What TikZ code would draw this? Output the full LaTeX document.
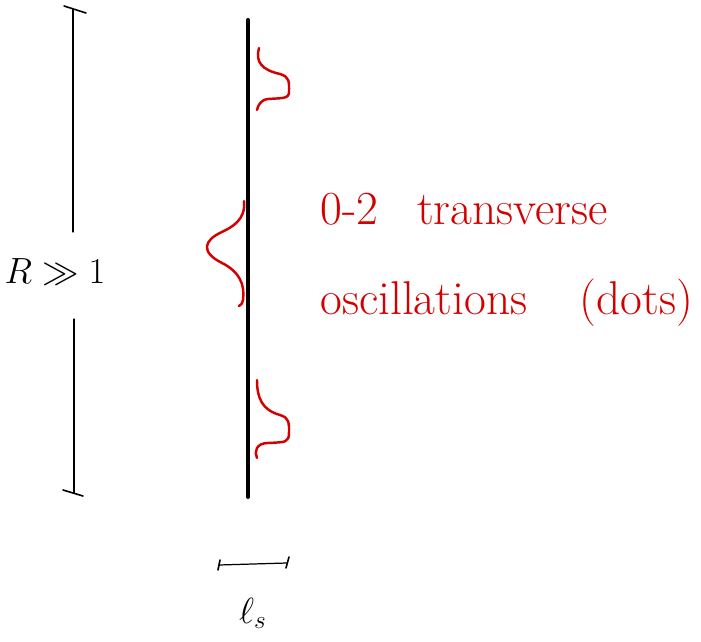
\documentclass[tikz,border=0pt]{standalone}
\usepackage{amsmath}
\usepackage{amssymb}
\usepackage{xcolor}
\usetikzlibrary{positioning, calc}
\definecolor{SketchRed}{HTML}{D40000}

\begin{document}
\begin{tikzpicture}[x=0.02cm, y=-0.02cm, line cap=round, line join=round]
    \useasboundingbox (0,0) rectangle (701,642);

    % long string and its length
    \coordinate (st) at (248,20);
    \coordinate (sb) at (248,497);
    \draw[line width=2.3pt] (st) -- (sb);

    \node (len) [inner sep=2pt] at (55,272) {\fontsize{20}{24}\selectfont $R \gg 1$};
    \coordinate (lt) at (73,9);
    \coordinate (lb) at (74,493);
    \draw[line width=0.7pt] (lt) -- ($(len.north)+(18,-23)$);
    \draw[line width=0.7pt] ($(len.south)+(19,30)$) -- (lb);
    \draw[line width=0.9pt] ($(lt)+(-9,-3)$) -- ($(lt)+(13,4)$);
    \draw[line width=0.9pt] ($(lb)+(-11,-3)$) -- ($(lb)+(9,3)$);

    % oscillations
    \draw[SketchRed, line width=1.4pt] (259,48) .. controls (255,62) and (262,70) .. (280,74)
        .. controls (290,77) and (289,82) .. (289,92)
        .. controls (289,99) and (282,98) .. (268,99)
        .. controls (260,100) and (258,106) .. (257,110);
    \draw[SketchRed, line width=1.4pt] (244,201) .. controls (246,220) and (232,227) .. (222,232)
        .. controls (204,240) and (200,252) .. (222,263)
        .. controls (240,272) and (245,285) .. (243,300)
        .. controls (243,303) and (241,305) .. (239,306);
    \draw[SketchRed, line width=1.4pt] (257,380) .. controls (257,398) and (262,410) .. (280,415)
        .. controls (290,418) and (289,424) .. (289,432)
        .. controls (289,443) and (286,442) .. (268,443)
        .. controls (256,443) and (254,452) .. (257,458);

    \node (osca) [SketchRed, anchor=base west, inner sep=0pt] at (320,225) {\fontsize{27}{32}\selectfont 0-2\hspace{0.78cm}transverse};
    \node (oscb) [SketchRed, anchor=base west, inner sep=0pt] at (320,315) {\fontsize{27}{32}\selectfont oscillations\hspace{1.05cm}(dots)};

    % string width
    \coordinate (wl) at (219,565);
    \coordinate (wr) at (287,563);
    \draw[line width=0.7pt] (wl) -- (wr);
    \draw[line width=0.9pt] ($(wl)+(1,-5)$) -- ($(wl)+(-1,5)$);
    \draw[line width=0.9pt] ($(wr)+(2,-6)$) -- ($(wr)+(-1,5)$);
    \coordinate (wm) at ($(wl)!0.5!(wr)$);
    \node (ls) [below=0.55cm of wm] {\fontsize{22}{26}\selectfont $\ell_s$};
\end{tikzpicture}
\end{document}
